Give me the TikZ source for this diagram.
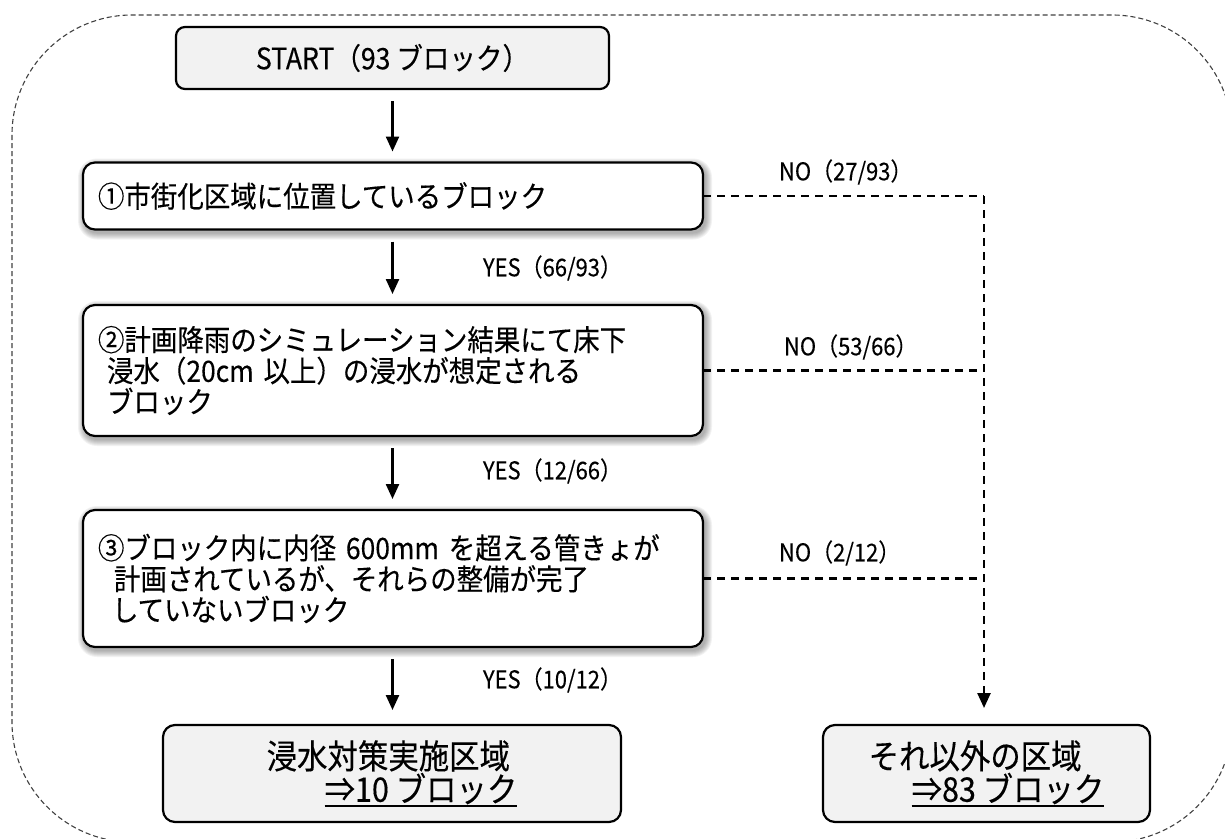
\documentclass[tikz,border=0pt]{standalone}
\usepackage{fontspec}
\setmainfont{Noto Sans CJK JP}[FakeStretch=0.9, FakeBold=0.3]
\usetikzlibrary{arrows.meta,backgrounds,calc}
\definecolor{boxgray}{HTML}{F2F2F2}
\definecolor{framegray}{HTML}{404040}
\newsavebox\ulsave
\newcommand\ulbox[1]{\sbox\ulsave{#1}\rlap{\rule[-5pt]{\wd\ulsave}{1.8pt}}\usebox\ulsave}
\begin{document}
\begin{tikzpicture}[x=1pt,y=-1pt,
  every node/.style={inner sep=0pt, outer sep=0pt},
  startbox/.style={draw=black, line width=2.2pt, fill=boxgray, rounded corners=9pt,
    minimum width=433pt, minimum height=62pt, font=\fontsize{29.5}{31}\selectfont},
  condbox/.style={draw=black, line width=2.2pt, fill=white, rounded corners=12pt,
    minimum width=620pt, text width=590pt, align=left, inner xsep=15pt,
    font=\fontsize{29.4}{31}\selectfont},
  endbox/.style={draw=black, line width=2.2pt, fill=boxgray, rounded corners=12pt,
    minimum height=97pt, align=left, font=\fontsize{33.8}{33}\selectfont},
  lbl/.style={anchor=west, font=\fontsize{24.4}{26}\selectfont},
  arr/.style={line width=2.4pt, -{Triangle[width=13pt,length=15pt]},
    shorten <=12pt, shorten >=11pt},
  dline/.style={line width=2.5pt, dash pattern=on 8pt off 6pt},
]
\useasboundingbox (0,0) rectangle (1225,838);

% boxes
\node[startbox] (start) at (392.5,58) {START（93 ブロック）};
\node[condbox, minimum height=67pt] (b1) at (393,196) {①市街化区域に位置しているブロック};
\node[condbox, minimum height=131pt] (b2) at (393,370.5)
  {②計画降雨のシミュレーション結果にて床下\\\hspace*{9pt}浸水（20cm 以上）の浸水が想定される\\\hspace*{9pt}ブロック};
\node[condbox, minimum height=137pt] (b3) at (393,578.5)
  {③ブロック内に内径 600mm を超える管きょが\\\hspace*{16pt}計画されているが、それらの整備が完了\\\hspace*{14pt}していないブロック};
\node[endbox, minimum width=458pt] (e1) at (392,773.5)
  {浸水対策実施区域\\\hspace*{58pt}\ulbox{⇒10 ブロック}};
\node[endbox, minimum width=327pt] (e2) at (986.5,773.5)
  {それ以外の区域\\\hspace*{43pt}\ulbox{⇒83 ブロック}};

% shadows and frame
\begin{pgfonlayer}{background}
  \foreach \n in {b1,b2,b3}{
    \foreach \s in {1,...,7}{
      \pgfmathsetmacro\rr{12+\s}
      \fill[black, opacity=0.05, rounded corners=\rr pt]
        ([shift={(2-\s,3-\s)}]\n.north west) rectangle ([shift={(2+\s,3+\s)}]\n.south east);
    }
  }
  \draw[framegray, line width=1.1pt, dash pattern=on 5pt off 3pt, rounded corners=120pt]
    (12,15) rectangle (1232,842);
\end{pgfonlayer}

% main flow arrows
\draw[arr] (start.south) -- (start.south |- b1.north);
\draw[arr] (start.south |- b1.south) -- (start.south |- b2.north);
\draw[arr] (start.south |- b2.south) -- (start.south |- b3.north);
\draw[arr, shorten >=15pt] (start.south |- b3.south) -- (start.south |- e1.north);

% NO branch
\coordinate (rail) at (984,0);
\draw[dline] (b1.east) -- (b1.east -| rail) coordinate (j1);
\draw[dline] (b2.east) -- (b2.east -| rail) coordinate (j2);
\draw[dline] (b3.east) -- (b3.east -| rail) coordinate (j3);
\draw[dline, -{Triangle[width=13pt,length=15pt]}, shorten >=17pt] (j1) -- (rail |- e2.north);

% labels
\node[lbl] (y1) at (483,268) {YES（66/93）};
\node[lbl] (y2) at (483,471) {YES（12/66）};
\node[lbl] (y3) at (483,680) {YES（10/12）};
\node[lbl] (n1) at (779,172) {NO（27/93）};
\node[lbl] (n2) at (784,347) {NO（53/66）};
\node[lbl] (n3) at (779,553) {NO（2/12）};
\end{tikzpicture}
\end{document}
